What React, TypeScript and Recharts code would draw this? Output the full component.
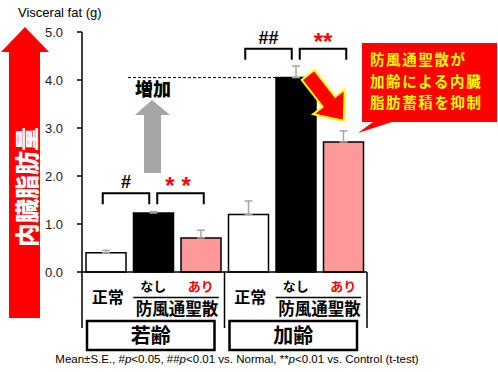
import { BarChart, Bar, XAxis, YAxis, Cell, ErrorBar } from 'recharts'

const categories = ['正常', 'なし', 'あり', '正常', 'なし', 'あり']
const groups = ['若齢', '加齢']
const values = [0.4, 1.23, 0.71, 1.2, 4.05, 2.71]
const errors = [0.05, 0.03, 0.16, 0.28, 0.24, 0.23]
const yTicks = [0, 1, 2, 3, 4, 5]

// significance brackets
const sigLabels = ['#', '**', '##', '**']
const sigFrom = [0, 1, 3, 4]
const sigTo = [1, 2, 4, 5]
const sigLevel = [1.64, 1.64, 4.65, 4.65]

const calloutLines = ['防風通聖散が', '加齢による内臓', '脂肪蓄積を抑制']

const fills = ['#ffffff', '#000000', '#ff9999', '#ffffff', '#000000', '#ff9999']
const labelColors = ['#000', '#000', '#ff0000', '#000', '#000', '#ff0000']

const W = 498
const H = 372
const PLOT_LEFT = 82
const PLOT_RIGHT = 367
const PLOT_TOP = 32
const PLOT_BOTTOM = 272
const BAND = (PLOT_RIGHT - PLOT_LEFT) / categories.length

const cx = (i: number) => PLOT_LEFT + BAND * (i + 0.5)
const py = (v: number) => PLOT_BOTTOM - (v / 5) * (PLOT_BOTTOM - PLOT_TOP)

const data = categories.map((c, i) => ({
  id: `c${i}`,
  label: c,
  value: values[i],
  err: [0, errors[i]],
}))

const SANS = '"Liberation Sans", Arial, sans-serif'
const CJK = '"Noto Sans CJK JP", sans-serif'

function CategoryTick(props: any) {
  const { x, index } = props
  const items: any[] = []
  const lbl = categories[index]
  if (index % 3 === 0) {
    items.push(
      <text key="n" x={x + 2} y={303} textAnchor="middle" fontFamily={CJK} fontWeight={700} fontSize={16} fill="#000">
        {lbl}
      </text>
    )
    const left = x - BAND / 2
    items.push(<line key="dv" x1={left} y1={PLOT_BOTTOM} x2={left} y2={328} stroke="#000" strokeWidth={1.5} />)
    items.push(
      <rect key="gb" x={left + 5} y={321} width={BAND * 3 - 15} height={29} fill="#fff" stroke="#000" strokeWidth={2.5} />
    )
    items.push(
      <text key="gt" x={left + 5 + (BAND * 3 - 15) / 2} y={343} textAnchor="middle" fontFamily={CJK} fontWeight={700} fontSize={20} fill="#000">
        {groups[Math.floor(index / 3)]}
      </text>
    )
  } else {
    items.push(
      <text key="n" x={x} y={291} textAnchor="middle" fontFamily={CJK} fontWeight={700} fontSize={13} fill={labelColors[index]}>
        {lbl}
      </text>
    )
  }
  if (index % 3 === 1) {
    items.push(<line key="ul" x1={x - 20} y1={297.5} x2={x + BAND + 18} y2={297.5} stroke="#000" strokeWidth={1.5} />)
    items.push(
      <text key="dr" x={x + BAND / 2} y={315} textAnchor="middle" fontFamily={CJK} fontWeight={700} fontSize={16.5} fill="#000">
        防風通聖散
      </text>
    )
  }
  if (index === categories.length - 1) {
    const right = x + BAND / 2
    items.push(<line key="dr2" x1={right} y1={PLOT_BOTTOM} x2={right} y2={328} stroke="#000" strokeWidth={1.5} />)
  }
  return <g>{items}</g>
}

function Overlay() {
  const brackets = sigLabels.map((s, k) => {
    const isLeft = k % 2 === 0
    const x1 = isLeft ? cx(sigFrom[k]) - 3 : cx(sigFrom[k]) + 4
    const x2 = isLeft ? cx(sigTo[k]) - 4 : cx(sigTo[k]) + 3
    const y = py(sigLevel[k])
    const red = s.startsWith('*')
    return (
      <g key={k}>
        <polyline points={`${x1},${y + 11} ${x1},${y} ${x2},${y} ${x2},${y + 11}`} fill="none" stroke="#000" strokeWidth={2} />
        {red ? (
          <text
            x={(x1 + x2) / 2}
            y={y + 1}
            textAnchor="middle"
            fontFamily={SANS}
            fontWeight={700}
            fontSize={24}
            fill="#ff0000"
            letterSpacing={k === 1 ? 7 : 0}
            dx={k === 1 ? 1 : 0}
          >
            {s}
          </text>
        ) : (
          <text x={(x1 + x2) / 2} y={y - 5} textAnchor="middle" fontFamily={SANS} fontWeight={700} fontSize={18} fill="#000">
            {s}
          </text>
        )}
      </g>
    )
  })

  // diagonal red arrow
  const ax = 308
  const ay = 75
  const ang = (52 * Math.PI) / 180
  const len = 58
  const sw = 8
  const hw = 20
  const hl = 24
  const local = [
    [0, -sw],
    [len - hl, -sw],
    [len - hl, -hw],
    [len, 0],
    [len - hl, hw],
    [len - hl, sw],
    [0, sw],
  ]
  const arrowPts = local
    .map(([u, v]) => `${ax + u * Math.cos(ang) - v * Math.sin(ang)},${ay + u * Math.sin(ang) + v * Math.cos(ang)}`)
    .join(' ')

  return (
    <svg width={W} height={H} style={{ position: 'absolute', left: 0, top: 0, pointerEvents: 'none' }}>
      <text x={18} y={17} fontFamily={SANS} fontSize={13} fill="#000">
        Visceral fat (g)
      </text>
      {/* left red arrow */}
      <polygon points="25,27 49,52 40,52 40,318 9,318 9,52 1,52" fill="#ff0000" />
      <text
        x={25}
        y={187}
        transform="rotate(-90 25 187)"
        textAnchor="middle"
        dominantBaseline="central"
        fontFamily={CJK}
        fontWeight={900}
        fontSize={24}
        fill="#fff"
      >
        内臓脂肪量
      </text>
      {/* dashed reference at aged control */}
      <line x1={128} y1={py(values[4])} x2={cx(4) - 20} y2={py(values[4])} stroke="#000" strokeWidth={1} strokeDasharray="3 2" />
      {/* gray arrow */}
      <polygon points="152,100 170,115 161,115 161,173 144,173 144,115 135,115" fill="#a6a6a6" />
      <text x={153} y={96} textAnchor="middle" fontFamily={CJK} fontWeight={900} fontSize={18} fill="#000">
        増加
      </text>
      {brackets}
      <polygon points={arrowPts} fill="#ff0000" stroke="#ffff00" strokeWidth={2} strokeLinejoin="miter" />
      {/* callout */}
      <polygon points="362,43 497,43 497,122 392,122 358,133 373,122 362,122" fill="#ff0000" />
      {calloutLines.map((t, i) => (
        <text key={i} x={370} y={65 + i * 21.5} fontFamily={CJK} fontWeight={700} fontSize={14.5} letterSpacing={1.6} fill="#ffff00">
          {t}
        </text>
      ))}
      <text x={237} y={363} textAnchor="middle" fontFamily={SANS} fontSize={11.5} fill="#000">
        Mean±S.E., #<tspan fontStyle="italic">p</tspan>{'<0.05, ##'}
        <tspan fontStyle="italic">p</tspan>
        {'<0.01 vs. Normal, **'}
        <tspan fontStyle="italic">p</tspan>
        {'<0.01 vs. Control (t-test)'}
      </text>
    </svg>
  )
}

export default function App() {
  return (
    <div style={{ position: 'absolute', left: 0, top: 0, width: W, height: H, background: '#fff' }}>
      <BarChart
        width={W}
        height={H}
        data={data}
        margin={{ top: PLOT_TOP, right: W - PLOT_RIGHT, left: 0, bottom: 0 }}
        barCategoryGap={4}
      >
        <XAxis
          dataKey="id"
          height={H - PLOT_BOTTOM}
          axisLine={{ stroke: '#000', strokeWidth: 1.5 }}
          tickLine={false}
          tick={<CategoryTick />}
          interval={0}
        />
        <YAxis
          width={PLOT_LEFT}
          domain={[0, 5]}
          ticks={yTicks}
          tickFormatter={(v: number) => v.toFixed(1)}
          axisLine={{ stroke: '#000', strokeWidth: 1.5 }}
          tickLine={{ stroke: '#000', strokeWidth: 1.5 }}
          tickSize={5}
          tickMargin={14}
          tick={{ fontFamily: SANS, fontSize: 13, fill: '#222' }}
        />
        <Bar dataKey="value" isAnimationActive={false} stroke="#000" strokeWidth={1.5}>
          {data.map((d, i) => (
            <Cell key={d.id} fill={fills[i]} />
          ))}
          <ErrorBar dataKey="err" direction="y" width={4} stroke="#a6a6a6" strokeWidth={1.5} />
        </Bar>
      </BarChart>
      <Overlay />
    </div>
  )
}
